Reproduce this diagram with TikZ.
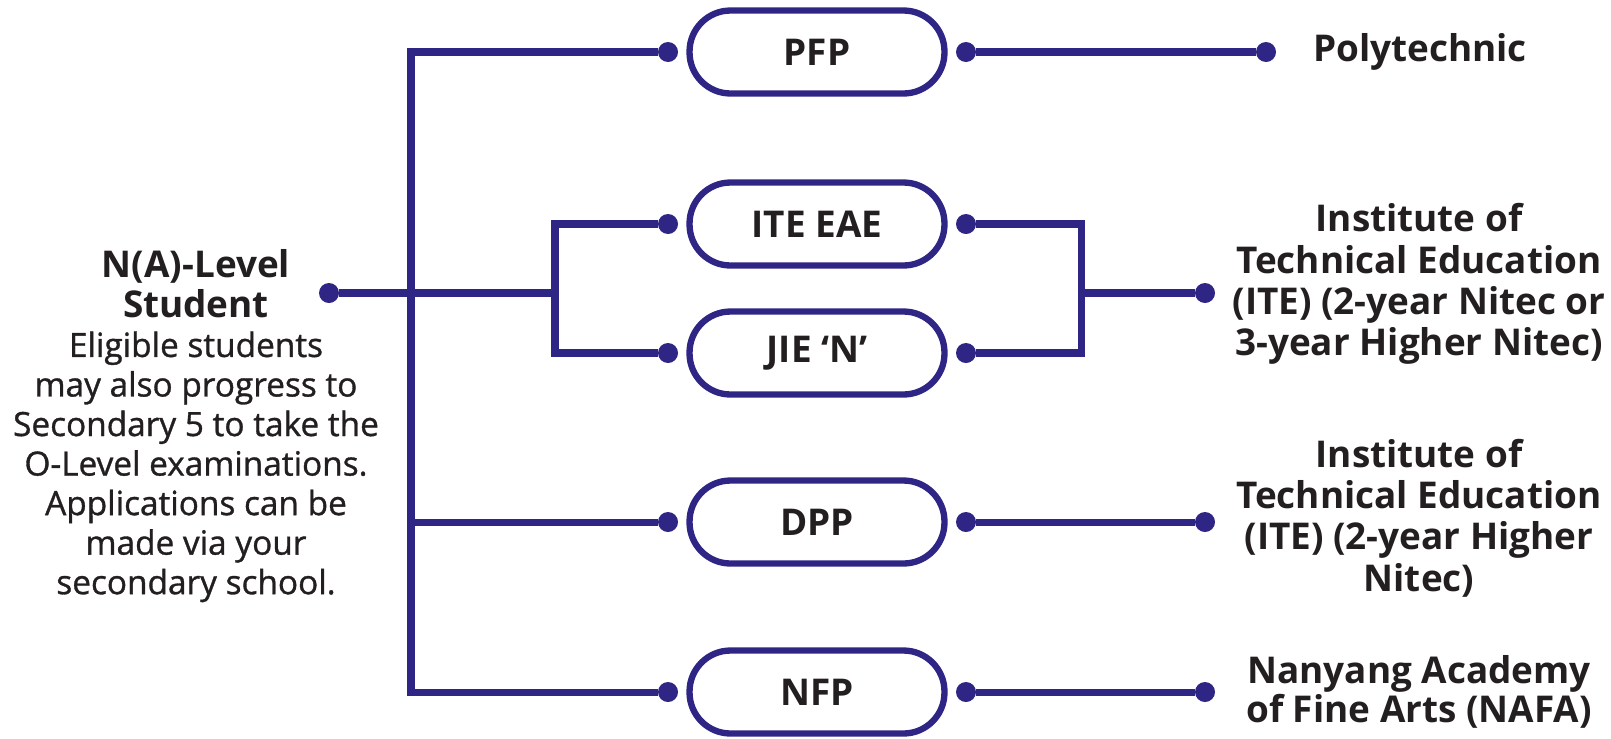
\documentclass[tikz,border=0pt]{standalone}
\usepackage{fontspec}
\setmainfont{Open Sans}[UprightFeatures={FakeBold=1}]
\usetikzlibrary{positioning}
\definecolor{navy}{RGB}{46,37,133}
\definecolor{ink}{RGB}{35,31,32}
\newcommand{\headline}[1]{{\fontsize{21}{22.5}\selectfont\bfseries #1}}

\begin{document}
\begin{tikzpicture}[
    x=0.02cm, y=-0.02cm,
    pill/.style = {rectangle, rounded corners=0.82cm, draw=navy, line width=3.6pt, minimum width=5.1cm, minimum height=1.66cm, text=ink, font=\bfseries\fontsize{21}{22}\selectfont},
    dot/.style = {circle, fill=navy, inner sep=0pt, minimum size=0.4cm},
    link/.style = {draw=navy, line width=4pt},
    label/.style = {align=center, text=ink, font=\fontsize{19}{22.5}\selectfont},
    goal/.style = {align=center, text=ink, font=\bfseries\fontsize{21}{23.5}\selectfont}
  ]
  \useasboundingbox (0,0) rectangle (1611,738);

  % Programmes
  \node[pill] (pfp) at (817,52) {PFP};
  \node[pill] (eae) at (817,224) {ITE EAE};
  \node[pill] (jie) at (817,353) {JIE ‘N’};
  \node[pill] (dpp) at (817,522) {DPP};
  \node[pill] (nfp) at (817,692) {NFP};

  % Dots on both sides of each programme
  \foreach \p in {pfp,eae,jie,dpp,nfp} {
    \node[dot, left=0.16cm of \p] (\p-in) {};
    \node[dot, right=0.16cm of \p] (\p-out) {};
  }

  % Student
  \node[dot] (start) at (329,293) {};
  \node[label] (student) at (196,426) {\headline{N(A)-Level}\\\headline{Student}\\Eligible students\\may also progress to\\Secondary 5 to take the\\O-Level examinations.\\Applications can be\\made via your\\secondary school.};

  % Destinations
  \node[dot] (poly-dot) at (1266,52) {};
  \node[dot] (ite-dot) at (1205,293) {};
  \node[dot] (higher-dot) at (1205,522) {};
  \node[dot] (nafa-dot) at (1205,692) {};
  \node[goal] (poly) at (1420,52) {Polytechnic};
  \node[goal] (ite) at (1419,284) {Institute of\\Technical Education\\(ITE) (2-year Nitec or\\3-year Higher Nitec)};
  \node[goal] (higher) at (1419,518) {Institute of\\Technical Education\\(ITE) (2-year Higher\\Nitec)};
  \node[goal, font=\bfseries\fontsize{21}{20}\selectfont] (nafa) at (1419,692) {Nanyang Academy\\of Fine Arts (NAFA)};

  % Junction points
  \coordinate (trunk) at (411,0);
  \coordinate (branch) at (555,0);
  \coordinate (merge) at (1081,0);

  % Paths on the left
  \draw[link] (pfp-in) -- (trunk |- pfp-in) -- (trunk |- nfp-in) -- (nfp-in);
  \draw[link] (trunk |- dpp-in) -- (dpp-in);
  \draw[link] (start) -- (branch |- start);
  \draw[link] (eae-in) -- (branch |- eae-in) -- (branch |- jie-in) -- (jie-in);

  % Paths on the right
  \draw[link] (pfp-out) -- (poly-dot);
  \draw[link] (eae-out) -- (merge |- eae-out) -- (merge |- jie-out) -- (jie-out);
  \draw[link] (merge |- ite-dot) -- (ite-dot);
  \draw[link] (dpp-out) -- (higher-dot);
  \draw[link] (nfp-out) -- (nafa-dot);

\end{tikzpicture}
\end{document}
